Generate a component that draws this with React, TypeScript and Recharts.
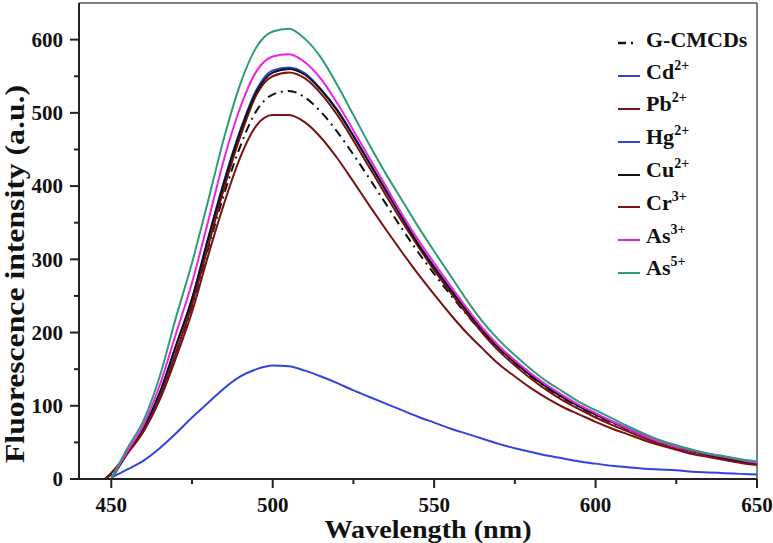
import React from 'react'
import { LineChart, Line, XAxis, YAxis, Legend, ReferenceLine } from 'recharts'

// wavelength (nm)
const wavelengths = [
  448, 450, 455, 460, 465, 470, 475, 480, 485, 490, 495, 500, 505, 510, 515, 520, 525, 530, 535, 540,
  545, 550, 555, 560, 565, 570, 575, 580, 585, 590, 595, 600, 605, 610, 615, 620, 625, 630, 635, 640,
  645, 650,
]

const gcmcds = [
  0, 6, 36, 68, 112, 172, 236, 315, 390, 455, 503, 525, 530, 521, 501, 474, 443, 410, 376, 342,
  310, 280, 252, 225, 200, 178, 158, 140, 124, 110, 98, 87, 77, 68, 59, 51, 44, 38, 33, 28, 24, 20,
]
const cd = [
  null, 2, 13, 25, 42, 62, 84, 104, 124, 140, 150, 155, 154, 148, 140, 131, 121, 112, 103, 94,
  85, 77, 69, 62, 55, 48, 42, 37, 32, 28, 24, 21, 18, 16, 14, 13, 12, 10, 9, 8, 7, 6,
]
const pb = [
  0, 8, 36, 66, 112, 172, 238, 318, 398, 468, 525, 550, 555, 547, 526, 497, 462, 425, 388, 352,
  318, 285, 255, 226, 199, 175, 155, 137, 121, 107, 95, 84, 74, 65, 56, 48, 41, 35, 31, 27, 23, 20,
]
const hg = [
  null, 0, 35, 69, 117, 181, 246, 329, 408, 477, 532, 558, 562, 554, 532, 504, 469, 432, 395, 358,
  322, 290, 260, 231, 204, 180, 160, 142, 126, 112, 100, 89, 79, 69, 60, 52, 45, 39, 34, 29, 25, 21,
]
const cu = [
  null, 0, 36, 70, 118, 182, 246, 328, 406, 475, 529, 555, 560, 552, 531, 503, 468, 431, 394, 357,
  321, 289, 259, 230, 203, 179, 159, 141, 125, 111, 99, 88, 78, 68, 59, 51, 44, 38, 33, 28, 24, 21,
]
const cr = [
  0, 8, 35, 65, 108, 165, 228, 305, 377, 440, 483, 497, 497, 487, 466, 438, 406, 373, 341, 310,
  280, 252, 225, 200, 178, 157, 140, 124, 110, 98, 88, 78, 69, 61, 53, 46, 40, 34, 30, 26, 22, 19,
]
const as3 = [
  null, 0, 38, 74, 128, 198, 268, 352, 438, 508, 557, 577, 580, 569, 546, 513, 476, 438, 400, 362,
  327, 295, 264, 234, 206, 182, 162, 144, 128, 114, 101, 90, 79, 69, 59, 51, 44, 39, 34, 30, 26, 22,
]
const as5 = [
  null, 0, 42, 80, 140, 220, 295, 380, 467, 540, 590, 611, 615, 601, 575, 538, 497, 456, 417, 381,
  345, 311, 278, 245, 215, 190, 169, 150, 133, 119, 105, 94, 83, 72, 62, 53, 46, 40, 35, 31, 27, 24,
]

const xTicks = [450, 475, 500, 525, 550, 575, 600, 625, 650]
const xMajor = [450, 500, 550, 600, 650]
const yTicks = [0, 50, 100, 150, 200, 250, 300, 350, 400, 450, 500, 550, 600]
const yMajor = [0, 100, 200, 300, 400, 500, 600]

const series = [
  { key: 'gcmcds', base: 'G-CMCDs', sup: '', color: '#111111', dash: '9 5 2 5', values: gcmcds },
  { key: 'cd', base: 'Cd', sup: '2+', color: '#2f45de', dash: undefined, values: cd },
  { key: 'pb', base: 'Pb', sup: '2+', color: '#7a1212', dash: undefined, values: pb },
  { key: 'hg', base: 'Hg', sup: '2+', color: '#2f45de', dash: undefined, values: hg },
  { key: 'cu', base: 'Cu', sup: '2+', color: '#111111', dash: undefined, values: cu },
  { key: 'cr', base: 'Cr', sup: '3+', color: '#7a1212', dash: undefined, values: cr },
  { key: 'as3', base: 'As', sup: '3+', color: '#ee22e6', dash: undefined, values: as3 },
  { key: 'as5', base: 'As', sup: '5+', color: '#2e9c7c', dash: undefined, values: as5 },
]

const data = wavelengths.map((w, i) => {
  const row: Record<string, number | null> = { wl: w }
  series.forEach((s) => {
    row[s.key] = s.values[i]
  })
  return row
})

const FONT = "'Times New Roman', 'Liberation Serif', 'DejaVu Serif', serif"

const XTick = (props: any) => {
  const { x, y, payload } = props
  const major = xMajor.includes(payload.value)
  return (
    <g>
      <line x1={x} x2={x} y1={y} y2={y + (major ? 9 : 5)} stroke="#222" strokeWidth={2} />
      {major && (
        <text x={x} y={y + 33} textAnchor="middle" style={{ fontFamily: FONT, fontWeight: 700, fontSize: 21 }} fill="#111">
          {payload.value}
        </text>
      )}
    </g>
  )
}

const YTick = (props: any) => {
  const { x, y, payload } = props
  const major = yMajor.includes(payload.value)
  return (
    <g>
      <line x1={x} x2={x - (major ? 9 : 5)} y1={y} y2={y} stroke="#222" strokeWidth={2} />
      {major && (
        <text x={x - 16} y={y} dy="0.35em" textAnchor="end" style={{ fontFamily: FONT, fontWeight: 700, fontSize: 21 }} fill="#111">
          {payload.value}
        </text>
      )}
    </g>
  )
}

const LegendBox = () => (
  <div style={{ fontFamily: FONT, fontWeight: 700, fontSize: 22, color: '#111', textAlign: 'left' }}>
    {series.map((s) => (
      <div key={s.key} style={{ display: 'flex', alignItems: 'center', height: 32.8 }}>
        <svg width={26} height={6} style={{ marginTop: 6 }}>
          {s.dash ? (
            <g>
              <line x1={2} x2={10} y1={3} y2={3} stroke={s.color} strokeWidth={2.5} />
              <line x1={15} x2={17} y1={3} y2={3} stroke={s.color} strokeWidth={2.5} />
            </g>
          ) : (
            <line x1={2} x2={24} y1={3} y2={3} stroke={s.color} strokeWidth={2} />
          )}
        </svg>
        <span style={{ marginLeft: 4, lineHeight: '22px' }}>
          {s.base}
          {s.sup && (
            <span style={{ fontSize: 14, position: 'relative', top: -9 }}>{s.sup}</span>
          )}
        </span>
      </div>
    ))}
  </div>
)

export default function App() {
  return (
    <div style={{ position: 'absolute', left: 0, top: 0, background: '#fff' }}>
      <LineChart width={773} height={543} data={data} margin={{ top: 3, right: 16, left: 0, bottom: 0 }}>
        <XAxis
          dataKey="wl"
          type="number"
          domain={[440, 650]}
          ticks={xTicks}
          interval={0}
          height={64}
          tickSize={0}
          tickMargin={0}
          tickLine={false}
          tick={<XTick />}
          axisLine={{ stroke: '#222', strokeWidth: 2 }}
          label={{
            content: (p: any) => {
              const vb = p.viewBox
              const cx = vb.x + vb.width / 2 + 10
              return (
                <text x={cx} y={538} textAnchor="middle" style={{ fontFamily: FONT, fontWeight: 700, fontSize: 26 }}
                  textLength={207} lengthAdjust="spacingAndGlyphs" fill="#111">
                  Wavelength (nm)
                </text>
              )
            },
          }}
        />
        <YAxis
          type="number"
          domain={[0, 650]}
          ticks={yTicks}
          interval={0}
          width={79}
          tickSize={0}
          tickMargin={0}
          tickLine={false}
          tick={<YTick />}
          axisLine={{ stroke: '#222', strokeWidth: 2 }}
          label={{
            content: () => (
              <text x={24} y={274} transform="rotate(-90, 24, 274)" textAnchor="middle"
                style={{ fontFamily: FONT, fontWeight: 700, fontSize: 27 }}
                textLength={378} lengthAdjust="spacingAndGlyphs" fill="#111">
                Fluorescence intensity (a.u.)
              </text>
            ),
          }}
        />
        <ReferenceLine y={650} stroke="#555" strokeWidth={1.5} />
        <ReferenceLine x={650} stroke="#555" strokeWidth={1.5} />
        <Legend
          content={<LegendBox />}
          layout="horizontal"
          verticalAlign="middle"
          align="center"
          wrapperStyle={{ top: 24, left: 616, width: 150 }}
        />
        {series.map((s) => (
          <Line
            key={s.key}
            dataKey={s.key}
            type="monotone"
            stroke={s.color}
            strokeWidth={2}
            strokeDasharray={s.dash}
            dot={false}
            activeDot={false}
            isAnimationActive={false}
            legendType="none"
          />
        ))}
      </LineChart>
    </div>
  )
}
